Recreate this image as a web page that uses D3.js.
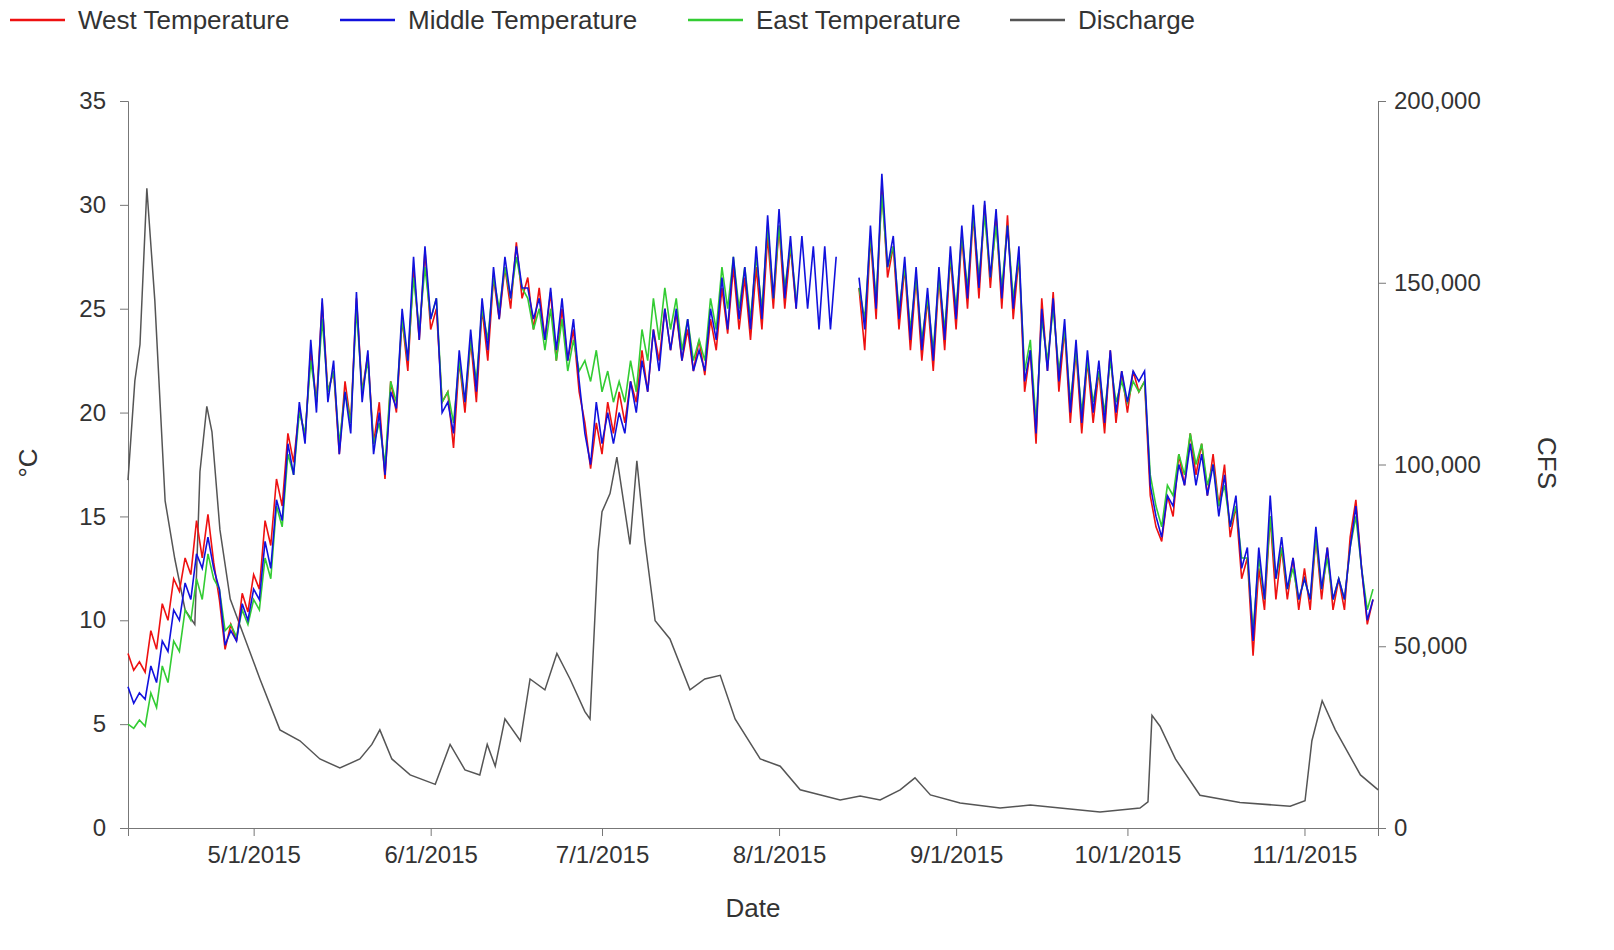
<!DOCTYPE html>
<html><head><meta charset="utf-8">
<script src="https://cdn.jsdelivr.net/npm/d3@7"></script>
<style>
body{margin:0;background:#fff;font-family:"Liberation Sans",Arial,sans-serif;}
.axis path,.axis line{stroke:#777;}
.axis text{font-size:24px;fill:#333;font-family:"Liberation Sans",Arial,sans-serif;}
</style></head>
<body><div id="chart"></div>
<script>
// daily temperature readings starting 4/9/2015
var startDate = new Date(2015, 3, 9);
var seriesNames = ["West Temperature", "Middle Temperature", "East Temperature", "Discharge"];
var seriesColors = ["#ee1111", "#1111dd", "#33cc33", "#555555"];

var west = [
  8.4,7.6,8.0,7.5,9.5,8.6,10.8,10.0,12.0,11.4,
  13.0,12.2,14.8,13.0,15.1,12.8,11.0,8.6,9.8,9.0,
  11.3,10.4,12.2,11.5,14.8,13.6,16.8,15.5,19.0,17.6,
  20.2,18.8,23.0,20.5,25.3,21.0,22.0,18.0,21.5,19.5,
  25.5,21.0,22.8,18.5,20.5,16.8,21.5,20.0,24.5,22.0,
  27.0,23.5,27.8,24.0,25.0,20.5,21.0,18.3,22.5,20.0,
  23.5,20.5,25.0,22.5,26.5,24.5,27.0,25.0,28.2,25.5,
  26.5,24.0,26.0,23.5,25.8,22.5,25.0,22.5,24.0,21.0,
  19.5,17.3,19.5,18.0,20.5,19.0,21.0,19.5,21.5,20.5,
  23.0,21.0,24.0,22.5,25.0,23.0,24.8,22.5,24.0,22.0,
  23.5,21.8,24.5,23.0,26.0,23.8,27.0,24.0,26.5,23.5,
  27.0,24.0,28.5,25.0,29.0,25.0,28.0,25.0,null,null,
  null,null,null,null,null,null,null,null,26.0,23.0,
  28.5,24.5,31.0,26.5,28.0,24.0,27.0,23.0,26.5,22.5,
  25.5,22.0,26.5,23.0,27.5,24.0,28.5,25.0,29.5,25.5,
  30.0,26.0,29.5,25.0,29.5,24.5,27.5,21.0,23.0,18.5,
  25.5,22.0,25.8,21.0,24.0,19.5,23.0,19.0,22.5,19.5,
  22.0,19.0,23.0,19.5,22.0,20.0,22.0,21.0,21.5,16.0,
  14.5,13.8,16.0,15.0,18.0,16.5,19.0,17.0,18.5,16.0,
  18.0,15.5,17.5,14.0,15.5,12.0,13.0,8.3,12.5,10.5,
  15.0,11.0,13.5,11.0,13.0,10.5,12.5,10.5,14.0,11.0,
  13.5,10.5,12.0,10.5,14.0,15.8,12.5,9.8,11.0
];
var middle = [
  6.8,6.0,6.5,6.2,7.8,7.0,9.0,8.5,10.5,10.0,
  11.8,11.0,13.2,12.5,14.0,12.5,11.5,8.8,9.5,9.0,
  10.8,10.0,11.5,11.0,13.8,12.5,15.8,14.8,18.5,17.0,
  20.5,18.5,23.5,20.0,25.5,20.5,22.5,18.0,21.0,19.0,
  25.8,20.5,23.0,18.0,20.0,17.0,21.0,20.2,25.0,22.5,
  27.5,23.5,28.0,24.5,25.5,20.0,20.5,19.0,23.0,20.5,
  24.0,21.0,25.5,23.0,27.0,24.5,27.5,25.5,28.0,26.0,
  26.0,24.5,25.5,23.5,26.0,23.0,25.5,22.5,24.5,21.5,
  19.0,17.5,20.5,18.5,20.0,18.5,20.0,19.0,21.5,20.0,
  22.5,21.0,24.0,22.0,25.0,23.0,25.0,22.5,24.5,22.0,
  23.0,22.0,25.0,23.5,26.5,24.0,27.5,24.5,27.0,24.0,
  28.0,24.5,29.5,25.5,29.8,25.5,28.5,25.0,28.5,25.0,
  28.0,24.0,28.0,24.0,27.5,null,null,null,26.5,24.0,
  29.0,25.0,31.5,27.0,28.5,24.5,27.5,23.5,27.0,23.0,
  26.0,22.5,27.0,23.5,28.0,24.5,29.0,25.5,30.0,26.0,
  30.2,26.5,29.8,25.5,29.0,25.0,28.0,21.5,23.0,19.0,
  25.0,22.0,25.5,21.5,24.5,20.0,23.5,19.5,23.0,20.0,
  22.5,19.5,23.0,20.0,22.0,20.5,22.0,21.5,22.0,16.5,
  15.0,14.0,16.0,15.5,17.5,16.5,18.5,16.5,18.0,16.0,
  17.5,15.0,17.0,14.5,16.0,12.5,13.5,9.0,13.5,11.0,
  16.0,12.0,14.0,11.5,13.0,11.0,12.0,11.0,14.5,11.5,
  13.5,11.0,12.0,11.0,13.5,15.5,12.5,10.0,11.0
];
var east = [
  5.0,4.8,5.2,4.9,6.5,5.8,7.8,7.0,9.0,8.5,
  10.5,10.0,12.0,11.0,13.2,12.0,11.5,9.5,9.8,9.2,
  10.5,9.8,11.0,10.5,13.0,12.0,15.5,14.5,18.0,17.0,
  20.0,19.0,22.5,20.5,24.5,21.0,22.0,18.5,21.0,19.5,
  25.0,21.0,22.5,18.5,19.5,17.5,21.5,20.5,24.5,22.5,
  26.5,24.0,27.0,24.5,25.5,20.5,21.0,19.5,22.5,20.5,
  23.5,21.5,25.0,23.5,26.5,25.0,27.0,25.5,27.5,26.0,
  25.5,24.0,25.0,23.0,25.0,22.5,24.5,22.0,23.5,22.0,
  22.5,21.5,23.0,21.0,22.0,20.5,21.5,20.5,22.5,21.0,
  24.0,22.5,25.5,23.5,26.0,24.0,25.5,23.0,24.5,22.5,
  23.5,22.5,25.5,24.0,27.0,25.0,27.5,25.0,27.0,24.5,
  27.5,25.0,29.0,25.5,29.0,26.0,28.0,25.5,null,null,
  null,null,null,null,null,null,null,null,26.0,24.5,
  28.5,25.5,30.5,27.0,28.0,25.0,27.0,24.0,26.5,23.5,
  25.5,23.0,26.5,24.0,27.5,25.0,28.5,26.0,29.5,26.5,
  29.5,26.5,29.0,26.0,29.0,25.5,27.5,22.0,23.5,19.5,
  24.5,22.5,25.0,22.0,24.0,20.5,23.0,20.0,22.5,20.5,
  22.0,20.0,22.5,20.5,21.5,20.5,21.5,21.0,21.5,17.0,
  15.5,14.5,16.5,16.0,18.0,17.0,19.0,17.5,18.5,16.5,
  17.5,15.5,16.5,14.5,15.5,13.0,13.0,9.5,13.0,11.0,
  15.0,12.0,13.5,11.5,12.5,11.0,12.0,11.0,14.0,11.5,
  13.0,11.0,12.0,11.0,13.5,15.0,12.5,10.5,11.5
];
// discharge: days after 4/9/2015 and CFS
var dischargeDay = [0,1.2,2.1,3.3,4.7,6.5,8.2,10,11.7,12.6,13.8,14.7,16.1,17.9,20.5,23.1,26.6,30.1,33.6,37.1,40.6,42.7,44.1,46.2,49.4,53.8,56.4,59,61.6,62.9,64.3,66,68.7,70.4,73,75.1,77.4,80,80.9,82.3,83,84.4,85.6,87.9,89.1,90.5,92.3,94.9,98.4,101,103.7,106.3,110.7,114.2,117.7,124.7,128.2,131.7,135.2,137.8,140.5,145.7,152.7,158,163.2,170.2,177.2,178.6,179.3,180.7,183.4,187.7,194.7,203.5,206.1,207.3,209.1,211.4,215.8,218.9];
var dischargeCfs = [95700,123000,133000,176000,145000,90000,74000,60000,56000,98000,116000,109000,82000,63000,52000,41000,27000,24000,19000,16500,19000,23000,27000,19000,14600,12000,23000,16000,14600,23000,17000,30000,24000,41000,38000,48000,41000,32000,30000,76000,87000,92000,102000,78000,101000,79000,57000,52000,38000,41000,42000,30000,19000,17000,10500,7700,8800,7700,10500,13800,9100,6900,5500,6300,5500,4400,5500,7200,31000,28000,19000,9000,7000,6000,7500,24000,35000,27000,14600,10500];

var tempTicks = [0,5,10,15,20,25,30,35];
var cfsTicks = [0,50000,100000,150000,200000];
var dateTicks = ["2015-05-01","2015-06-01","2015-07-01","2015-08-01","2015-09-01","2015-10-01","2015-11-01"];

var W = 1614, H = 950;
var m = {left:128, right:W-1378, top:101, bottom:H-828};
var svg = d3.select("#chart").append("svg").attr("width", W).attr("height", H);
var g = svg.append("g").attr("transform", `translate(${m.left},${m.top})`);
var iw = 1378-128, ih = 828-101;

var x = d3.scaleTime().domain([startDate, d3.timeHour.offset(startDate, 218.9*24)]).range([0, iw]);
var y = d3.scaleLinear().domain([0,35]).range([ih,0]);
var y2 = d3.scaleLinear().domain([0,200000]).range([ih,0]);

var dayDate = d => new Date(startDate.getTime() + d*86400000);

g.append("g").attr("class","axis").call(d3.axisLeft(y).tickValues(tempTicks).tickSize(8).tickPadding(14));
g.append("g").attr("class","axis").attr("transform",`translate(${iw},0)`)
  .call(d3.axisRight(y2).tickValues(cfsTicks).tickSize(8).tickPadding(8).tickFormat(d3.format(",")));
g.append("g").attr("class","axis").attr("transform",`translate(0,${ih})`)
  .call(d3.axisBottom(x).tickValues(dateTicks.map(d => d3.timeParse("%Y-%m-%d")(d)))
    .tickSize(8).tickPadding(10).tickFormat(d3.timeFormat("%-m/%-d/%Y")));

var tline = d3.line().defined(d => d != null).x((d,i) => x(dayDate(i))).y(d => y(d));
var dline = d3.line().x((d,i) => x(dayDate(dischargeDay[i]))).y(d => y2(d));

g.append("path").attr("d", dline(dischargeCfs)).attr("fill","none").attr("stroke",seriesColors[3]).attr("stroke-width",1.5);
[[west,0],[east,2],[middle,1]].forEach(function(s){
  g.append("path").attr("d", tline(s[0])).attr("fill","none").attr("stroke",seriesColors[s[1]]).attr("stroke-width",1.6);
});

svg.append("text").attr("transform","translate(30,463) rotate(-90)").attr("text-anchor","middle")
  .attr("dominant-baseline","middle").style("font-size","26px").attr("fill","#333").text("°C");
svg.append("text").attr("transform","translate(1545,463) rotate(90)").attr("text-anchor","middle")
  .attr("dominant-baseline","middle").style("font-size","26px").attr("fill","#333").text("CFS");
svg.append("text").attr("x",753).attr("y",917).attr("text-anchor","middle").style("font-size","26px").attr("fill","#333").text("Date");

var legX = [10,340,688,1010];
var leg = svg.append("g");
seriesNames.forEach(function(n,i){
  leg.append("line").attr("x1",legX[i]).attr("x2",legX[i]+55).attr("y1",20).attr("y2",20)
    .attr("stroke",seriesColors[i]).attr("stroke-width",2.5);
  leg.append("text").attr("x",legX[i]+68).attr("y",29).style("font-size","26px").attr("fill","#333").text(n);
});
</script></body></html>
